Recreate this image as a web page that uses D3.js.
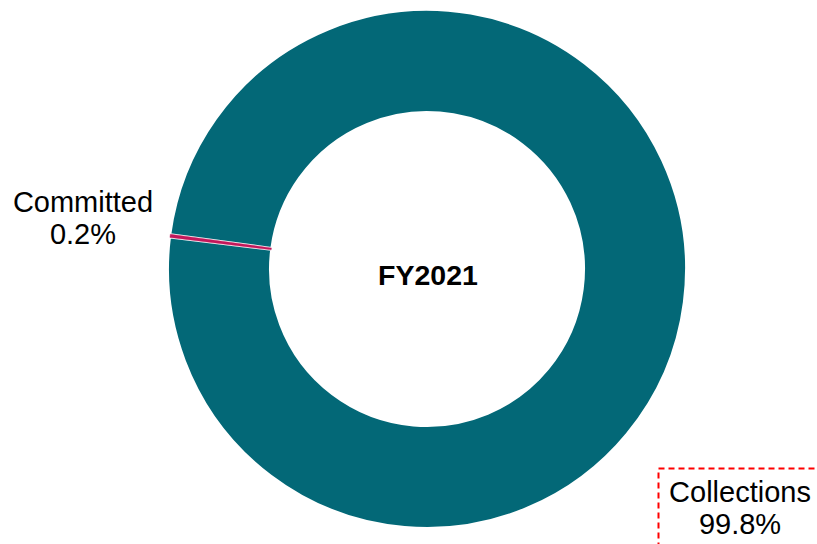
<!DOCTYPE html>
<html>
<head>
<meta charset="utf-8">
<script src="https://cdn.jsdelivr.net/npm/d3@7/dist/d3.min.js"></script>
<style>
  html, body { margin: 0; padding: 0; background: #ffffff; }
  svg { display: block; }
  text { font-family: "Liberation Sans", Arial, Helvetica, sans-serif; }
</style>
</head>
<body>
<svg id="chart" width="817" height="544"></svg>
<script>
const categories = ["Committed", "Collections"];
const values = [0.2, 99.8];
const valueLabels = ["0.2%", "99.8%"];
const colors = ["#C2185B", "#036877"];
const centerTitle = "FY2021";

const W = 817, H = 544;
const cx = 427, cy = 269;
const outerR = 259, innerR = 157;

const svg = d3.select("#chart");
const g = svg.append("g").attr("transform", `translate(${cx},${cy})`);

const pie = d3.pie()
  .sort(null)
  .startAngle(277.0 * Math.PI / 180)
  .endAngle((277.0 + 360) * Math.PI / 180)
  .value(d => d.value);

const data = categories.map((c, i) => ({ name: c, value: values[i], label: valueLabels[i], color: colors[i] }));
const arcs = pie(data);
const arc = d3.arc().innerRadius(innerR).outerRadius(outerR);

const order = arcs.slice().sort((a, b) => b.value - a.value);
g.selectAll("path.slice")
  .data(order)
  .enter()
  .append("path")
  .attr("class", "slice")
  .attr("d", arc)
  .attr("fill", d => d.data.color)
  .attr("stroke", d => d.data.value > 50 ? "#ffffff" : d.data.color)
  .attr("stroke-width", d => d.data.value > 50 ? 2 : 0.4);

g.append("text")
  .attr("x", 1)
  .attr("y", 16)
  .attr("text-anchor", "middle")
  .attr("font-size", 28.5)
  .attr("font-weight", "bold")
  .attr("fill", "#000")
  .text(centerTitle);

const labelPos = {
  "Committed": { x: 83, y: 212 },
  "Collections": { x: 740, y: 502 }
};
const lineGap = 32;

data.forEach(d => {
  const p = labelPos[d.name];
  const t = svg.append("text")
    .attr("text-anchor", "middle")
    .attr("font-size", 29)
    .attr("fill", "#000");
  t.append("tspan").attr("x", p.x).attr("y", p.y).text(d.name);
  t.append("tspan").attr("x", p.x).attr("y", p.y + lineGap).text(d.label);
});

svg.append("rect")
  .attr("x", 658.5)
  .attr("y", 468.5)
  .attr("width", 200)
  .attr("height", 120)
  .attr("fill", "none")
  .attr("stroke", "#FF0000")
  .attr("stroke-width", 2)
  .attr("stroke-dasharray", "6,4");
</script>
</body>
</html>
